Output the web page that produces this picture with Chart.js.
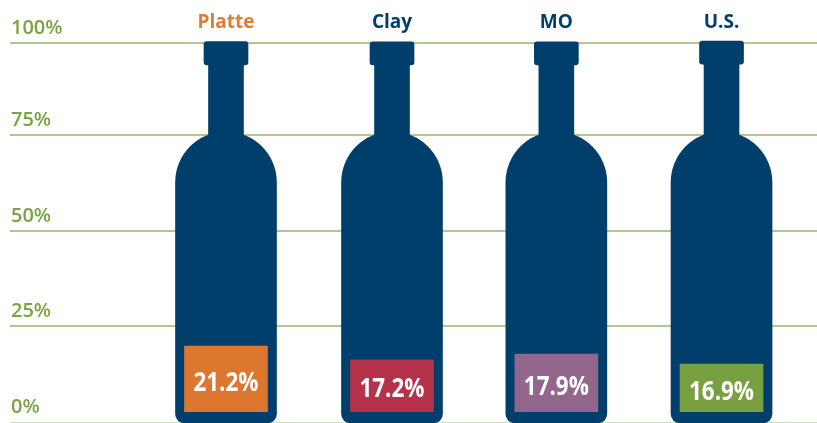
<!DOCTYPE html>
<html>
<head>
<meta charset="utf-8">
<style>
  html, body { margin: 0; padding: 0; background: #fff; overflow: hidden; }
  canvas { display: block; }
</style>
<script src="https://cdn.jsdelivr.net/npm/chart.js@4/dist/chart.umd.min.js"></script>
</head>
<body>
<canvas id="chart" width="817" height="423"></canvas>
<script>
// DATA
const categories = ["Platte", "Clay", "MO", "U.S."];
const positions = [1, 2.005, 3, 4];
const percentLabels = ["21.2%", "17.2%", "17.9%", "16.9%"];

// the coloured boxes sit inside the bottle
const fillBase = [2.7, 2.7, 2.7, 2.7];
const fillTop = [20.0, 16.4, 17.9, 15.3];

// bottle parts in axis percent
const bodyBase = [-0.2, -0.2, -0.2, -0.2];
const bodyTop = [76.5, 76.5, 76.5, 76.5];
const neckBase = [70, 70, 70, 70];
const neckTop = [95, 95, 95, 95];
const capBase = [94.2, 94.2, 94.2, 94.4];
const capTop = [100.4, 100.3, 100.3, 100.5];

// gridlines are not quite evenly spaced in the original
const tickValues = [0, 25.3, 50.4, 75.7, 100];
const tickLabels = ["0%", "25%", "50%", "75%", "100%"];

// COLORS
const navy = "#003f6b";
const fillColors = ["#dd7730", "#b5324a", "#92668d", "#78a040"];
const categoryColors = ["#e07b35", navy, navy, navy];
const green = "#7aa444";

function floating(lows, highs) {
  return positions.map((p, i) => ({ x: p, y: [lows[i], highs[i]] }));
}

// PERCENT TEXT ON THE BOXES
const percentText = {
  id: "percentText",
  afterDatasetsDraw(chart) {
    const ctx = chart.ctx;
    chart.getDatasetMeta(0).data.forEach((bar, i) => {
      ctx.save();
      ctx.translate(bar.x, (bar.y + bar.base) / 2 + 4);
      ctx.scale(0.83, 1);
      ctx.font = "700 27px 'Open Sans'";
      ctx.fillStyle = "#fff";
      ctx.textAlign = "center";
      ctx.textBaseline = "middle";
      ctx.fillText(percentLabels[i], 0, 0);
      ctx.restore();
    });
  }
};

new Chart(document.getElementById("chart"), {
  type: "bar",
  data: {
    datasets: [
      {
        data: floating(fillBase, fillTop),
        backgroundColor: fillColors,
        barThickness: 83,
        borderSkipped: false,
        grouped: false
      },
      {
        data: floating(capBase, capTop),
        backgroundColor: navy,
        barThickness: 44,
        borderRadius: 3,
        borderSkipped: false,
        grouped: false,
        clip: false
      },
      {
        data: floating(neckBase, neckTop),
        backgroundColor: navy,
        barThickness: 35,
        borderSkipped: false,
        grouped: false
      },
      {
        data: floating(bodyBase, bodyTop),
        backgroundColor: navy,
        barThickness: 101,
        borderRadius: { topLeft: 50.5, topRight: 50.5, bottomLeft: 9, bottomRight: 9 },
        borderSkipped: false,
        grouped: false,
        clip: false
      }
    ]
  },
  options: {
    responsive: false,
    animation: false,
    layout: { autoPadding: false, padding: { left: 10, right: 0, top: 0, bottom: 1 } },
    plugins: {
      legend: { display: false },
      tooltip: { enabled: false }
    },
    scales: {
      x: {
        type: "linear",
        position: "top",
        offset: false,
        min: -0.3077,
        max: 4.578,
        afterBuildTicks: axis => {
          axis.ticks = positions.map(p => ({ value: p }));
        },
        afterFit: axis => {
          axis.height = 43;
        },
        grid: { display: false },
        border: { display: false },
        ticks: {
          autoSkip: false,
          maxRotation: 0,
          padding: 1,
          font: { family: "'Open Sans'", size: 19, weight: "700" },
          color: ctx => categoryColors[ctx.index],
          callback: (value, i) => categories[i]
        }
      },
      y: {
        min: 0,
        max: 100,
        afterBuildTicks: axis => {
          axis.ticks = tickValues.map(v => ({ value: v }));
        },
        afterFit: axis => {
          axis.width = 0;
          axis.paddingTop = 0;
          axis.paddingBottom = 0;
        },
        grid: {
          drawTicks: false,
          color: ctx => (ctx.index === 0 ? "#d3dfb9" : "#b2c78f"),
          lineWidth: ctx => (ctx.index === 0 ? 1 : 2)
        },
        border: { display: false },
        ticks: {
          mirror: true,
          padding: 1,
          labelOffset: -15,
          font: { family: "'Open Sans'", size: 20, weight: "600" },
          color: green,
          callback: (value, i) => tickLabels[i]
        }
      }
    }
  },
  plugins: [percentText]
});
</script>
</body>
</html>
